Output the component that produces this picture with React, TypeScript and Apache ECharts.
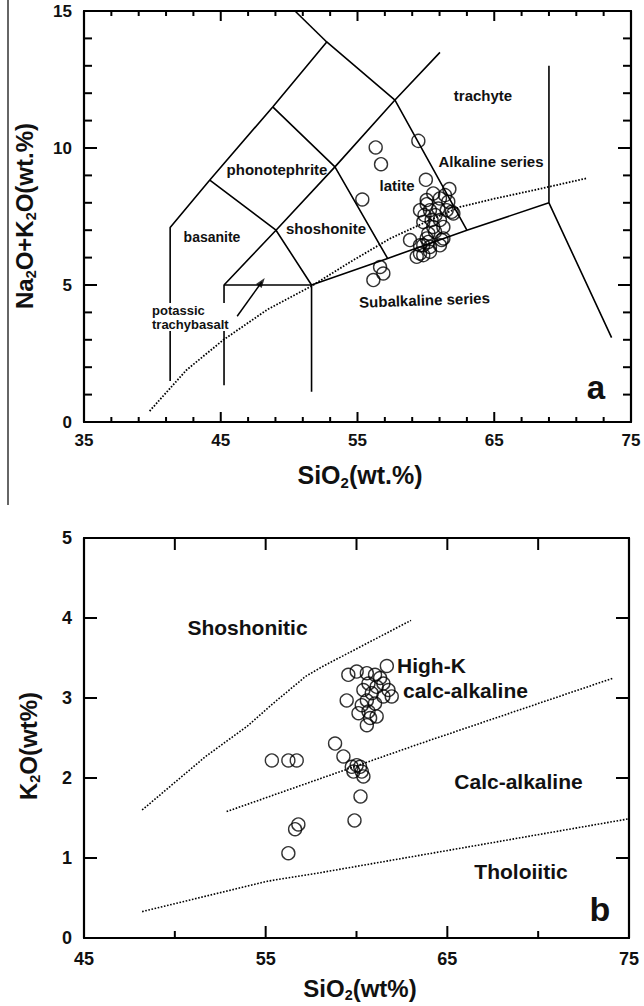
import React, { useEffect, useRef } from "react";
import * as echarts from "echarts";

const FONT = "'Liberation Sans', Arial, Helvetica, sans-serif";

// ---------- Panel a : TAS diagram ----------
const tasXRange = [35, 75];
const tasYRange = [0, 15];
const tasXMajorTicks = [35, 45, 55, 65, 75];
const tasXMinorTicks = [37, 39, 41, 43, 47, 49, 51, 53, 57, 59, 61, 63, 67, 69, 71, 73];
const tasYMajorTicks = [0, 5, 10, 15];
const tasYMinorTicks = [1, 2, 3, 4, 6, 7, 8, 9, 11, 12, 13, 14];
const tasBoundaries: number[][][] = [
  [[41.3, 1.5], [41.3, 7.1], [44.2, 8.83], [48.8, 11.5], [52.75, 13.87], [57.74, 11.75], [63, 7]],
  [[52.75, 13.87], [50.43, 15]],
  [[44.2, 8.83], [49.04, 7.0], [51.64, 5.0]],
  [[45.24, 1.34], [45.24, 5], [51.64, 5], [51.64, 1.1]],
  [[45.24, 5], [49.04, 7.0], [53.35, 9.31], [57.74, 11.75], [61.03, 13.49]],
  [[48.8, 11.5], [53.35, 9.31], [57.2, 5.97]],
  [[51.64, 5.0], [57.2, 5.97], [63, 7], [69, 8], [73.58, 3.08]],
  [[69, 8], [69, 13]],
];
const tasDivider = [
  [39.8, 0.4], [42.5, 1.9], [45.2, 3.0], [48.4, 4.1], [51.6, 4.95], [54.5, 5.85],
  [57.4, 6.7], [60, 7.3], [62.5, 7.85], [65, 8.15], [67.9, 8.46], [71.8, 8.9],
];
const tasArrow = [[46.2, 3.86], [48.0, 5.11]];
const tasSamples = [
  [59.45, 10.26], [56.33, 10.02], [56.72, 9.41], [60.0, 8.84], [55.35, 8.12], [61.72, 8.5],
  [60.06, 8.1], [60.54, 8.34], [61.03, 8.16], [61.4, 8.28], [61.64, 8.04], [62.01, 7.61],
  [59.57, 7.73], [60.3, 7.73], [60.91, 7.79], [61.52, 7.73], [61.89, 7.67], [60.06, 7.95],
  [59.81, 7.3], [60.42, 7.37], [61.03, 7.37], [60.54, 7.12], [61.28, 7.12], [59.9, 7.55], [60.7, 7.55],
  [60.18, 6.88], [60.67, 6.94], [60.06, 6.7], [61.28, 6.7],
  [58.84, 6.64], [59.57, 6.45], [60.18, 6.57], [61.15, 6.64], [59.81, 6.45], [60.3, 6.39], [61.03, 6.45],
  [59.57, 6.15], [59.81, 6.09], [59.33, 6.03], [60.3, 6.21],
  [56.65, 5.66], [56.89, 5.42], [56.16, 5.18],
];

// ---------- Panel b : K2O vs SiO2 ----------
const kXRange = [45, 75];
const kYRange = [0, 5];
const kXMajorTicks = [45, 55, 65, 75];
const kXMinorTicks = [50, 60, 70];
const kYMajorTicks = [0, 1, 2, 3, 4, 5];
const shoshoniticLine = [[48.2, 1.6], [51.7, 2.27], [54, 2.65], [55.4, 2.93], [57.2, 3.27], [58.1, 3.39], [63, 3.97]];
const highKLine = [[52.85, 1.58], [58.1, 2.0], [63.5, 2.43], [74.15, 3.25]];
const tholeiiticLine = [[48.2, 0.33], [55.1, 0.71], [58.1, 0.82], [75, 1.49]];
const kSamples = [
  [55.34, 2.22], [56.25, 2.22], [56.71, 2.22], [56.8, 1.42], [56.62, 1.36], [56.25, 1.06],
  [58.82, 2.43], [59.28, 2.27], [59.74, 2.14], [60.01, 2.16], [60.2, 2.14], [59.83, 2.08],
  [60.29, 2.08], [60.38, 2.02], [60.22, 1.77], [59.89, 1.47],
  [61.67, 3.4], [59.55, 3.29], [60.01, 3.33], [60.57, 3.31], [61.02, 3.29], [61.3, 3.25],
  [61.48, 3.18], [61.11, 3.14], [60.66, 3.18], [60.38, 3.1], [60.84, 3.06], [61.76, 3.1],
  [61.94, 3.02], [61.48, 3.02], [59.46, 2.97], [60.57, 2.97], [60.29, 2.91], [61.02, 2.93],
  [60.11, 2.81], [60.66, 2.83], [61.11, 2.77], [60.75, 2.75], [60.57, 2.66],
];

function label(show: boolean, fontSize: number, margin: number) {
  return { show, fontSize, fontWeight: "bold", fontFamily: FONT, color: "#111", margin };
}
function axis(grid: number, range: number[], interval: number, pos: string, show: boolean, fontSize: number, margin: number) {
  return {
    type: "value", gridIndex: grid, min: range[0], max: range[1], interval, position: pos,
    axisLine: { show: true, onZero: false, lineStyle: { color: "#000", width: 2.2 } },
    axisTick: { show: false },
    minorTick: { show: false },
    splitLine: { show: false },
    axisLabel: label(show, fontSize, margin),
  };
}

// tick marks drawn through the axes' own scales (side: 0 bottom, 1 top, 2 left, 3 right)
function tickSeries(xi: number, yi: number, ref: number[], ticks: number[][]) {
  return {
    type: "custom", xAxisIndex: xi, yAxisIndex: yi, silent: true, clip: false, z: 6,
    data: ticks,
    renderItem: (params: any, api: any) => {
      const cs = params.coordSys;
      const v = api.value(0);
      const side = api.value(1);
      const len = api.value(2);
      let x1 = 0, y1 = 0, x2 = 0, y2 = 0;
      if (side < 2) {
        const px = api.coord([v, ref[1]])[0];
        x1 = x2 = px;
        if (side === 0) { y1 = cs.y + cs.height; y2 = y1 - len; } else { y1 = cs.y; y2 = y1 + len; }
      } else {
        const py = api.coord([ref[0], v])[1];
        y1 = y2 = py;
        if (side === 2) { x1 = cs.x; x2 = x1 + len; } else { x1 = cs.x + cs.width; x2 = x1 - len; }
      }
      return { type: "line", shape: { x1, y1, x2, y2 }, style: { stroke: "#000", lineWidth: 2 } };
    },
  };
}

function lineSeries(data: number[][], xi: number, yi: number, dotted: boolean, width: number) {
  return {
    type: "line", xAxisIndex: xi, yAxisIndex: yi, data, showSymbol: false, symbol: "none", silent: true,
    lineStyle: { color: "#000", width, type: dotted ? [1.6, 1.6] : "solid" }, z: 3,
  };
}

function txt(x: number, y: number, text: string, size: number, opts: any = {}) {
  const style: any = {
    text, fontSize: size, fontWeight: "bold", fontFamily: FONT, fill: "#111",
    align: opts.align || "center", verticalAlign: "middle",
  };
  if (opts.bg) style.backgroundColor = opts.bg;
  if (opts.lineHeight) style.lineHeight = opts.lineHeight;
  if (opts.rich) style.rich = opts.rich;
  const el: any = { type: "text", x, y, z: 100, style };
  if (opts.rotation) el.rotation = opts.rotation;
  return el;
}

function subRich(size: number) {
  return {
    a: { fontSize: size, fontWeight: "bold", fontFamily: FONT, color: "#111", lineHeight: size * 1.2 },
    s: { fontSize: size * 0.6, fontWeight: "bold", fontFamily: FONT, color: "#111", lineHeight: size * 0.6, verticalAlign: "bottom" },
  };
}

export default function App() {
  const ref = useRef<HTMLDivElement>(null);
  useEffect(() => {
    if (!ref.current) return;
    const chart = echarts.init(ref.current, null, { renderer: "svg" });
    const series: any[] = [];
    tasBoundaries.forEach((b) => series.push(lineSeries(b, 0, 0, false, 1.6)));
    series.push(lineSeries(tasDivider, 0, 0, true, 1.8));
    series.push(lineSeries(tasArrow, 0, 0, false, 1.5));
    series.push({
      type: "scatter", xAxisIndex: 0, yAxisIndex: 0, data: [tasArrow[1]], symbol: "triangle", symbolSize: [7, 10],
      symbolRotate: -36, itemStyle: { color: "#000" }, silent: true, z: 4,
    });
    series.push({
      type: "scatter", xAxisIndex: 0, yAxisIndex: 0, data: tasSamples, symbol: "circle", symbolSize: 13,
      itemStyle: { color: "rgba(0,0,0,0)", borderColor: "#000", borderWidth: 1.4 }, z: 5,
    });
    series.push(tickSeries(0, 0, [tasXRange[0], tasYRange[0]], [
      ...tasXMajorTicks.map((v) => [v, 0, 10]), ...tasXMinorTicks.map((v) => [v, 0, 5]),
      ...tasXMajorTicks.map((v) => [v, 1, 10]), ...tasXMinorTicks.map((v) => [v, 1, 5]),
      ...tasYMajorTicks.map((v) => [v, 2, 13]), ...tasYMinorTicks.map((v) => [v, 2, 8]),
      ...tasYMajorTicks.map((v) => [v, 3, 13]), ...tasYMinorTicks.map((v) => [v, 3, 8]),
    ]));
    series.push(lineSeries(shoshoniticLine, 2, 2, true, 1.6));
    series.push(lineSeries(highKLine, 2, 2, true, 1.6));
    series.push(lineSeries(tholeiiticLine, 2, 2, true, 1.6));
    series.push({
      type: "scatter", xAxisIndex: 2, yAxisIndex: 2, data: kSamples, symbol: "circle", symbolSize: 13,
      itemStyle: { color: "rgba(0,0,0,0)", borderColor: "#000", borderWidth: 1.4 }, z: 5,
    });
    series.push(tickSeries(2, 2, [kXRange[0], kYRange[0]], [
      ...kXMajorTicks.map((v) => [v, 0, 12]), ...kXMinorTicks.map((v) => [v, 0, 7]),
      ...kXMajorTicks.map((v) => [v, 1, 12]), ...kXMinorTicks.map((v) => [v, 1, 12]),
      ...kYMajorTicks.map((v) => [v, 2, 13]), ...kYMajorTicks.map((v) => [v, 3, 13]),
    ]));

    const option: any = {
      animation: false,
      backgroundColor: "#fff",
      grid: [
        { left: 84, top: 11, width: 547, height: 411 },
        { left: 84, top: 538, width: 545, height: 400 },
      ],
      xAxis: [
        axis(0, tasXRange, 10, "bottom", true, 17, 10),
        axis(0, tasXRange, 10, "top", false, 17, 10),
        axis(1, kXRange, 10, "bottom", true, 18, 12),
        axis(1, kXRange, 10, "top", false, 18, 12),
      ],
      yAxis: [
        axis(0, tasYRange, 5, "left", true, 17, 12),
        axis(0, tasYRange, 5, "right", false, 17, 12),
        axis(1, kYRange, 1, "left", true, 18, 12),
        axis(1, kYRange, 1, "right", false, 18, 12),
      ],
      series,
      graphic: {
        elements: [
          { type: "line", z: 100, shape: { x1: 8, y1: 0, x2: 8, y2: 505 }, style: { stroke: "#333", lineWidth: 1.5 } },
          txt(360, 475, "{a|SiO}{s|2}{a|(wt.%)}", 25, { rich: subRich(25) }),
          txt(24, 216, "{a|Na}{s|2}{a|O+K}{s|2}{a|O(wt.%)}", 24, { rich: subRich(24), rotation: Math.PI / 2 }),
          txt(483, 95, "trachyte", 15),
          txt(491, 161, "Alkaline series", 15),
          txt(397, 185, "latite", 15),
          txt(277, 169, "phonotephrite", 15),
          txt(326, 228, "shoshonite", 15),
          txt(212, 237, "basanite", 14),
          txt(152, 317, "potassic\ntrachybasalt", 13, { align: "left", bg: "#fff", lineHeight: 14 }),
          txt(424.5, 300, "Subalkaline series", 15, { rotation: 0.035 }),
          txt(596, 387, "a", 33),
          txt(360, 988, "{a|SiO}{s|2}{a|(wt%)}", 24, { rich: subRich(24) }),
          txt(28, 746, "{a|K}{s|2}{a|O(wt%)}", 24, { rich: subRich(24), rotation: Math.PI / 2 }),
          txt(247.5, 627, "Shoshonitic", 21),
          txt(397, 665, "High-K", 21, { align: "left" }),
          txt(403, 690, "calc-alkaline", 21, { align: "left" }),
          txt(518.5, 781, "Calc-alkaline", 21),
          txt(521, 871, "Tholoiitic", 21),
          txt(600, 909, "b", 34),
        ],
      },
    };
    chart.setOption(option);
    return () => chart.dispose();
  }, []);
  return <div ref={ref} style={{ position: "absolute", left: 0, top: 0, width: 644, height: 1006, background: "#fff" }} />;
}
